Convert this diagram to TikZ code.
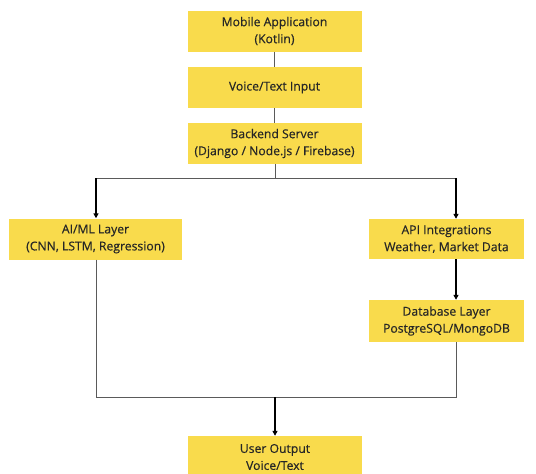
\documentclass[tikz,border=0pt]{standalone}
\usepackage{fontspec}
\setmainfont{Open Sans}[FakeBold=0.4]
\usetikzlibrary{arrows.meta,calc,positioning}
\definecolor{boxyellow}{HTML}{F9DB4C}
\definecolor{linegray}{HTML}{5A5A5A}
\definecolor{textdark}{HTML}{262626}
\begin{document}
\begin{tikzpicture}[x=1pt,y=-1pt,>={Triangle[length=5pt,width=5pt]},
  layer/.style={fill=boxyellow,draw=none,text=textdark,align=center,inner sep=0pt,
    minimum height=41pt,font=\fontsize{12.2}{17}\selectfont},
  link/.style={draw=linegray,line width=1pt},
  flow/.style={draw=black,line width=1.3pt,->}]
\useasboundingbox (0,0) rectangle (536,474);
\node[layer,minimum width=174pt] (mobile) at (274.5,31) {Mobile Application\\(Kotlin)};
\node[layer,minimum width=174pt] (voice) at (274.5,87.5) {Voice/Text Input};
\node[layer,minimum width=174pt] (backend) at (274.5,143.5) {Backend Server\\(Django / Node.js / Firebase)};
\node[layer,minimum width=173pt] (aiml) at (95.5,239) {AI/ML Layer\\(CNN, LSTM, Regression)};
\node[layer,minimum width=155pt,minimum height=40pt] (api) at (446.5,239) {API Integrations\\Weather, Market Data};
\node[layer,minimum width=155pt,minimum height=42pt] (db) at (446.5,321) {Database Layer\\PostgreSQL/MongoDB};
\node[layer,minimum width=174pt,minimum height=42pt] (output) at (275,457) {User Output\\Voice/Text};
% fork and join points
\coordinate (fork) at (275,178);
\coordinate (forkL) at (96,178);
\coordinate (forkR) at (456,178);
\coordinate (join) at (275,397);
\draw[link] (mobile) -- (voice);
\draw[link] (voice) -- (backend);
\draw[link] (backend.south -| fork) -- (fork);
\draw[link] (forkL) -- (forkR);
\draw[flow] (forkL) -- (aiml.north -| forkL);
\draw[flow] (forkR) -- (api.north -| forkR);
\draw[flow] (api.south -| forkR) -- (db.north -| forkR);
\draw[link] (aiml.south -| forkL) -- (forkL |- join) -- (forkR |- join) -- (db.south -| forkR);
\draw[flow] (join) -- (output.north -| join);
\end{tikzpicture}
\end{document}
